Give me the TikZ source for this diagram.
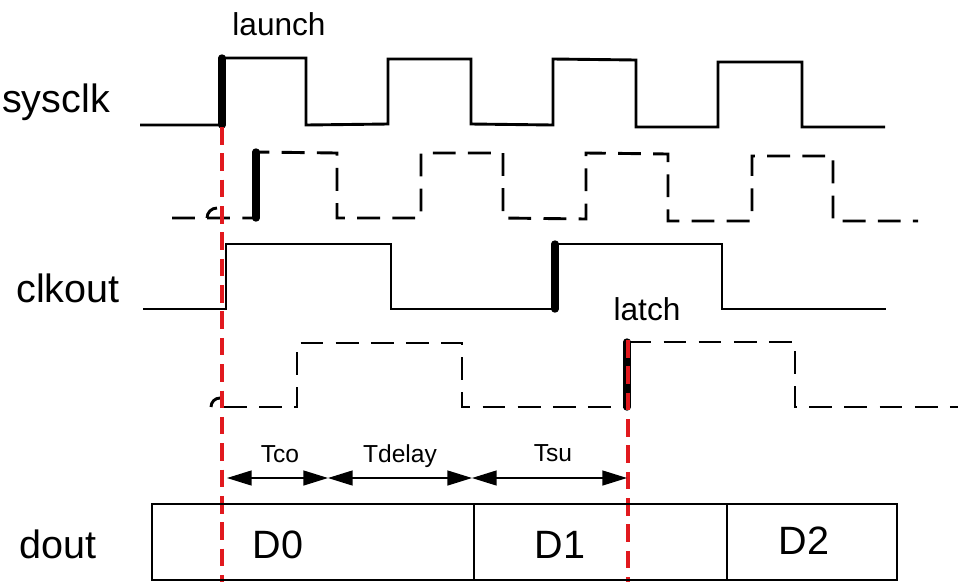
\documentclass[tikz,border=0pt]{standalone}
\usepackage{fontspec}
\setmainfont{Liberation Sans}
\usepackage{xcolor}
\usetikzlibrary{arrows.meta}
\definecolor{markred}{RGB}{225,25,30}

\begin{document}
\begin{tikzpicture}[
  x=0.02cm, y=-0.02cm,
  wave/.style   ={line width=1.65pt, line join=miter},
  dwave/.style  ={wave, dash pattern=on 13pt off 7pt},
  edge/.style   ={line width=4.2pt, line cap=round},
  hop/.style    ={line width=1.65pt},
  refline/.style={markred, line width=1.8pt, dash pattern=on 10pt off 5pt},
  dim/.style    ={line width=0.8pt,
                  {Triangle[length=14pt,width=8.5pt]}-{Triangle[length=14pt,width=8.5pt]}},
  cell/.style   ={line width=1.3pt},
  signame/.style={anchor=base, font=\fontsize{22.5}{26}\selectfont},
  tag/.style    ={anchor=base, font=\fontsize{18}{22}\selectfont},
  dimlbl/.style ={anchor=base, font=\fontsize{14}{17}\selectfont},
]
\useasboundingbox (0,0) rectangle (960,582);

%-- Signal names
\node[signame] (sysclk) at (56,112)  {sysclk};
\node[signame] (clkout) at (68,302)  {clkout};
\node[signame] (dout)   at (58,558)  {dout};

%-- sysclk and its delayed copy
\draw[wave] (140,125) -- (222,125) -- (222,58) -- (306,58) -- (306,125)
  -- (388,124) -- (388,59) -- (471,59) -- (471,124) -- (553,125)
  -- (553,59) -- (636,60) -- (636,127) -- (718,127) -- (718,62)
  -- (802,62) -- (802,127) -- (885,127);
\draw[dwave] (172,218) -- (256,218) -- (256,152) -- (337,153) -- (337,218)
  -- (421,218) -- (421,153) -- (503,153) -- (503,218) -- (586,219)
  -- (586,153) -- (668,154) -- (668,221) -- (752,221) -- (752,156)
  -- (833,156) -- (833,221) -- (918,221);
\draw[hop] (207,218) .. controls (207,212.5) and (211.5,208) .. (217,208);

%-- clkout and its delayed copy
\draw[wave] (143,309) -- (226,309) -- (226,244) -- (391,244) -- (391,309)
  -- (555,309) -- (555,244) -- (722,244) -- (722,309) -- (886,309);
\draw[dwave] (224,407) -- (297,407) -- (297,343) -- (462,343) -- (462,407)
  -- (627,407) -- (627,342) -- (795,342) -- (795,407) -- (958,407);
\draw[hop] (211,407) .. controls (211,402) and (215,398) .. (220,398);

%-- launch / latch edges
\draw[edge] (222,125) -- (222,58);
\draw[edge] (256,218) -- (256,152);
\draw[edge] (555,309) -- (555,244);
\draw[edge] (627,407) -- (627,342);
\node[tag] (launch) at (279,35)  {launch};
\node[tag] (latch)  at (647,320) {latch};

\draw[refline] (222,127) -- (222,582);
\draw[refline] (628,340) -- (628,582);

%-- Timing intervals
\coordinate (t0) at (227,478);
\coordinate (t1) at (328,478);
\coordinate (t2) at (472,478);
\coordinate (t3) at (627,478);
\draw[dim] (t0) -- (t1);
\draw[dim] (t1) -- (t2);
\draw[dim] (t2) -- (t3);
\node[dimlbl] (tco)    at (280,462) {Tco};
\node[dimlbl] (tdelay) at (400,462) {Tdelay};
\node[dimlbl] (tsu)    at (553,461) {Tsu};

%-- Data bus
\draw[cell] (152,504) rectangle (897,580);
\draw[cell] (474,504) -- (474,580);
\draw[cell] (727,504) -- (727,580);
\node[signame] (d0) at (278,558) {D0};
\node[signame] (d1) at (560,558) {D1};
\node[signame] (d2) at (804,554) {D2};

\end{tikzpicture}
\end{document}
